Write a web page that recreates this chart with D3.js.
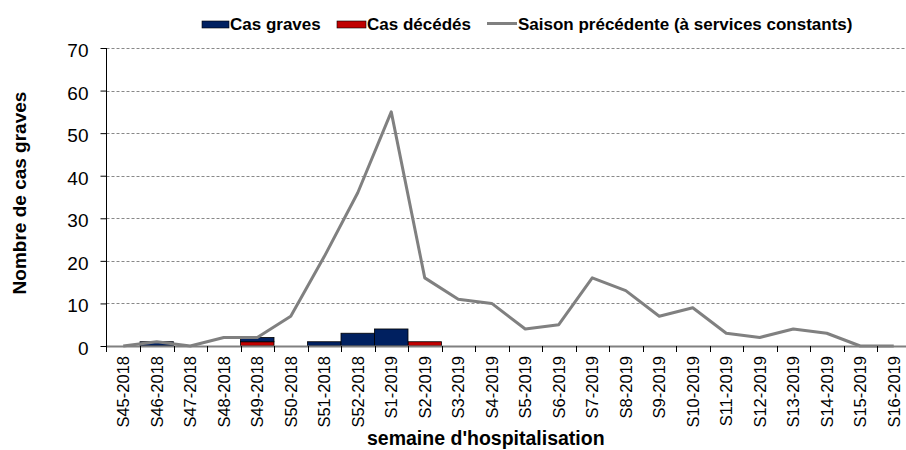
<!DOCTYPE html>
<html>
<head>
<meta charset="utf-8">
<script src="https://cdn.jsdelivr.net/npm/d3@7"></script>
<style>
  body { margin: 0; background: #fff; }
  svg { font-family: "Liberation Sans", Arial, sans-serif; display: block; }
</style>
</head>
<body>
<svg id="chart" width="906" height="450"></svg>
<script>
const weeks = ['S45-2018', 'S46-2018', 'S47-2018', 'S48-2018', 'S49-2018', 'S50-2018',
  'S51-2018', 'S52-2018', 'S1-2019', 'S2-2019', 'S3-2019', 'S4-2019', 'S5-2019',
  'S6-2019', 'S7-2019', 'S8-2019', 'S9-2019', 'S10-2019', 'S11-2019', 'S12-2019',
  'S13-2019', 'S14-2019', 'S15-2019', 'S16-2019'];
const casGraves = [0, 1, 0, 0, 1, 0, 1, 3, 4, 0, 0, 0, 0, 0, 0, 0, 0, 0, 0, 0, 0, 0, 0, 0];
const casDecedes = [0, 0, 0, 0, 1, 0, 0, 0, 0, 1, 0, 0, 0, 0, 0, 0, 0, 0, 0, 0, 0, 0, 0, 0];
const saisonPrec = [0, 1, 0, 2, 2, 7, 21, 36, 55, 16, 11, 10, 4, 5, 16, 13, 7, 9, 3, 2, 4, 3, 0, 0];
const yTicks = [0, 10, 20, 30, 40, 50, 60, 70];

const svg = d3.select('#chart');
const margin = { left: 106.5, right: 910.5, top: 48, bottom: 346 };
const font = '"Liberation Sans", Arial, sans-serif';

const x = d3.scaleBand().domain(weeks).range([margin.left, margin.right]).padding(0);
const y = d3.scaleLinear().domain([0, 70]).range([margin.bottom, margin.top]);

// grid
svg.append('g')
  .selectAll('line')
  .data(yTicks.filter(d => d > 0))
  .join('line')
    .attr('x1', margin.left).attr('x2', 906)
    .attr('y1', d => Math.round(y(d)) + 0.5).attr('y2', d => Math.round(y(d)) + 0.5)
    .attr('stroke', '#888').attr('stroke-dasharray', '3,2').attr('stroke-width', 1);

// stacked bars: décédés at the bottom, graves on top
const rows = weeks.map((w, i) => ({ week: w, dec: casDecedes[i], grav: casGraves[i] }));
const stack = d3.stack().keys(['dec', 'grav'])(rows);
const colors = { dec: '#C00000', grav: '#002060' };

svg.append('g')
  .selectAll('g')
  .data(stack)
  .join('g')
    .attr('fill', s => colors[s.key])
  .selectAll('rect')
  .data(s => s.filter(d => d[1] > d[0]))
  .join('rect')
    .attr('x', d => x(d.data.week))
    .attr('y', d => y(d[1]))
    .attr('width', x.bandwidth())
    .attr('height', d => y(d[0]) - y(d[1]))
    .attr('stroke', '#000').attr('stroke-width', 0.8);

// previous season line
const line = d3.line()
  .x((d, i) => x(weeks[i]) + x.bandwidth() / 2)
  .y(d => y(d));
svg.append('path')
  .datum(saisonPrec)
  .attr('d', line)
  .attr('fill', 'none')
  .attr('stroke', '#808080')
  .attr('stroke-width', 3)
  .attr('stroke-linejoin', 'round');

// y axis
const yAxis = svg.append('g')
  .attr('transform', `translate(${margin.left},0)`)
  .call(d3.axisLeft(y).tickValues(yTicks).tickSize(6).tickPadding(12));
yAxis.select('.domain').attr('stroke', '#000').attr('d', `M0,${margin.top}V${margin.bottom + 6}`);
yAxis.selectAll('.tick line').attr('stroke', '#000');
yAxis.selectAll('.tick text').attr('font-size', 19).attr('fill', '#000')
  .attr('dy', '0.45em')
  .style('font-family', font);

// x axis
const xAxis = svg.append('g')
  .attr('transform', `translate(0,${margin.bottom})`)
  .call(d3.axisBottom(x).tickSize(0).tickPadding(0));
xAxis.select('.domain').attr('stroke', '#808080').attr('stroke-width', 2);
xAxis.selectAll('.tick text')
  .attr('font-size', 16.5).attr('fill', '#000')
  .style('font-family', font)
  .attr('transform', 'rotate(-90)')
  .attr('text-anchor', 'end')
  .attr('x', -10).attr('y', 0).attr('dy', '0.35em');
// boundary tick marks between categories
svg.append('g')
  .selectAll('line')
  .data(weeks.slice(1))
  .join('line')
    .attr('x1', d => Math.round(x(d)) + 0.5).attr('x2', d => Math.round(x(d)) + 0.5)
    .attr('y1', margin.bottom).attr('y2', margin.bottom + 6)
    .attr('stroke', '#000');

// axis titles
svg.append('text')
  .attr('transform', 'translate(26,193) rotate(-90)')
  .attr('text-anchor', 'middle')
  .attr('font-size', 19).attr('font-weight', 'bold')
  .text('Nombre de cas graves');
svg.append('text')
  .attr('x', 367).attr('y', 445)
  .attr('font-size', 19.5).attr('font-weight', 'bold')
  .text("semaine d'hospitalisation");

// legend
const legend = svg.append('g').attr('font-size', 17).attr('font-weight', 'bold');
legend.append('rect').attr('x', 202).attr('y', 21).attr('width', 27).attr('height', 7)
  .attr('fill', colors.grav).attr('stroke', '#000').attr('stroke-width', 0.6);
legend.append('text').attr('x', 230).attr('y', 30).text('Cas graves');
legend.append('rect').attr('x', 337).attr('y', 21).attr('width', 29).attr('height', 7)
  .attr('fill', colors.dec).attr('stroke', '#000').attr('stroke-width', 0.6);
legend.append('text').attr('x', 367).attr('y', 30).text('Cas décédés');
legend.append('line').attr('x1', 487).attr('x2', 517).attr('y1', 23.5).attr('y2', 23.5)
  .attr('stroke', '#808080').attr('stroke-width', 3);
legend.append('text').attr('x', 518).attr('y', 30).text('Saison précédente (à services constants)');
</script>
</body>
</html>
